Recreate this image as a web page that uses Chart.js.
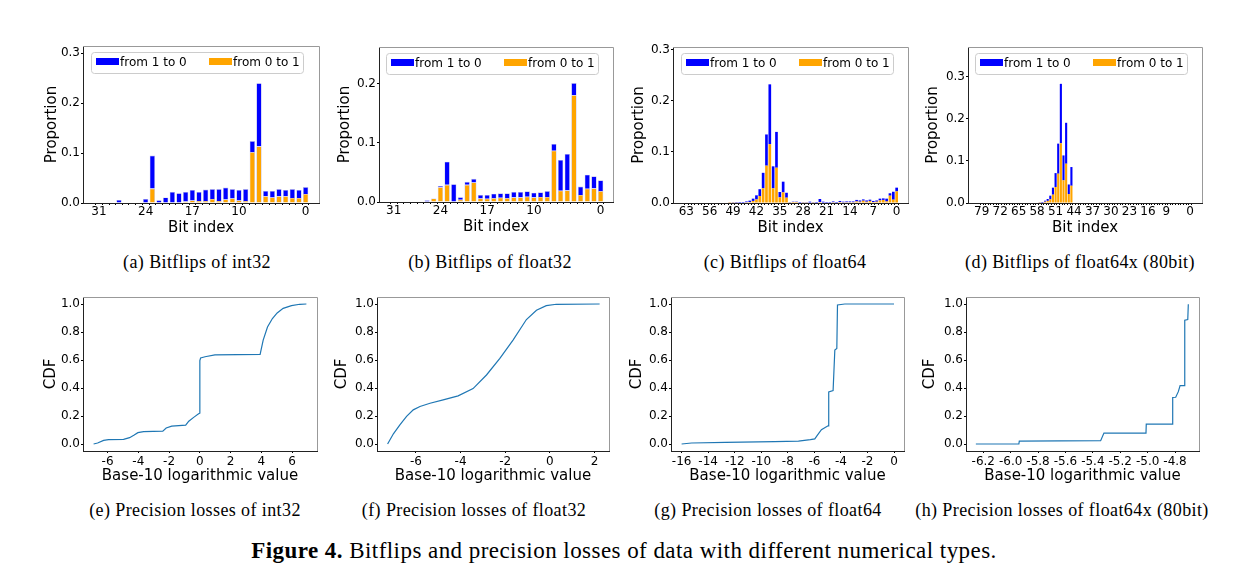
<!DOCTYPE html>
<html>
<head>
<meta charset="utf-8">
<script src="https://cdn.jsdelivr.net/npm/chart.js@4.4.1/dist/chart.umd.min.js"></script>
<style>
  body { margin: 0; background: #fff; width: 1259px; height: 588px; position: relative; overflow: hidden; }
  canvas { position: absolute; }
  .sub { position: absolute; font-family: "Liberation Serif", serif; font-size: 18px; line-height: 20px;
         white-space: nowrap; transform: translateX(-50%); color: #000; letter-spacing: 0.4px; }
  #caption { position: absolute; left: 624px; top: 539px; font-family: "Liberation Serif", serif; font-size: 23px;
             line-height: 24px; white-space: nowrap; transform: translateX(-50%); color: #000; letter-spacing: 0.45px; }
</style>
</head>
<body>
<div class="sub" style="left:197px;top:252px">(a) Bitflips of int32</div>
<div class="sub" style="left:490px;top:252px">(b) Bitflips of float32</div>
<div class="sub" style="left:785px;top:252px">(c) Bitflips of float64</div>
<div class="sub" style="left:1080px;top:252px">(d) Bitflips of float64x (80bit)</div>
<div class="sub" style="left:195px;top:500px">(e) Precision losses of int32</div>
<div class="sub" style="left:474px;top:500px">(f) Precision losses of float32</div>
<div class="sub" style="left:768px;top:500px">(g) Precision losses of float64</div>
<div class="sub" style="left:1062px;top:500px">(h) Precision losses of float64x (80bit)</div>
<div id="caption"><b>Figure 4.</b> Bitflips and precision losses of data with different numerical types.</div>

<script>
Chart.defaults.font.family = '"DejaVu Sans", sans-serif';
Chart.defaults.font.size = 12;
Chart.defaults.color = '#000';

const blue = '#0000ff';
const orange = '#ffa500';
const lineBlue = '#1f77b4';

function bitRange(hi) {
  const r = [];
  for (let b = hi; b >= 0; b--) r.push(b);
  return r;
}

// ---- bitflips, values listed from the highest bit down to bit 0 ----
const int32Bits = bitRange(31);
const int32From1to0 = [0, 0, 0, 0.006, 0, 0, 0, 0.008, 0.066, 0.0055, 0.011, 0.021, 0.0185, 0.019, 0.021, 0.018,
  0.023, 0.020, 0.024, 0.024, 0.019, 0.021, 0.024, 0.022, 0.1265, 0.0105, 0.013, 0.0145, 0.0125, 0.018, 0.016, 0.014];
const int32From0to1 = [0, 0, 0, 0, 0, 0, 0, 0, 0.029, 0, 0, 0.001, 0.001, 0.003, 0.005, 0.004,
  0.004, 0.008, 0.004, 0.007, 0.009, 0.005, 0.004, 0.102, 0.1135, 0.0135, 0.011, 0.0135, 0.0135, 0.010, 0.010, 0.018];

const f32Bits = bitRange(31);
const f32From1to0 = [0, 0, 0, 0, 0, 0.002, 0, 0.002, 0.039, 0.029, 0.004, 0.005, 0.006, 0.006, 0.0064, 0.0073,
  0.0073, 0.0079, 0.009, 0.009, 0.009, 0.0078, 0.0079, 0.0101, 0.0115, 0.052, 0.0613, 0.0206, 0.014, 0.0235, 0.0203, 0.018];
const f32From0to1 = [0, 0, 0, 0.001, 0.001, 0.001, 0.006, 0.025, 0.029, 0.001, 0.004, 0.029, 0.033, 0.006, 0.0056, 0.0067,
  0.0073, 0.0067, 0.0079, 0.0079, 0.009, 0.0079, 0.0084, 0.0084, 0.0865, 0.019, 0.0197, 0.18, 0.012, 0.0225, 0.023, 0.0185];

const f64Bits = bitRange(63);
const f64From1to0 = [0, 0, 0, 0, 0, 0, 0, 0, 0, 0, 0, 0, 0,
  0.0002, 0.0005, 0.0008, 0.001, 0.001, 0.0015, 0.0026, 0.0045, 0.008, 0.0133, 0.0303, 0.061, 0.117, 0.043, 0.07,
  0.0105, 0.0209, 0.0096, 0.0005, 0.0006, 0.0006, 0.001, 0.0005, 0.0005, 0.0016, 0.0005, 0.001, 0.0058, 0.0016,
  0.001, 0.001, 0.0015, 0.001, 0.002, 0.0013, 0.0015, 0.0015, 0.0015, 0.003, 0.0025, 0.0025, 0.0025, 0.0025,
  0.002, 0.0025, 0.0035, 0.003, 0.0055, 0.0047, 0.0155, 0.0072];
const f64From0to1 = [0, 0, 0, 0, 0, 0, 0, 0, 0, 0, 0, 0, 0,
  0.0003, 0.0005, 0.0007, 0.001, 0.001, 0.0015, 0.002, 0.004, 0.007, 0.0137, 0.0287, 0.073, 0.115, 0.0287, 0.069,
  0.011, 0.0208, 0.0104, 0.0005, 0.002, 0.002, 0.001, 0.0005, 0.0005, 0.001, 0.0005, 0.001, 0.002, 0.001,
  0.001, 0.001, 0.0015, 0.001, 0.002, 0.0013, 0.0015, 0.0015, 0.0015, 0.003, 0.0025, 0.0045, 0.0025, 0.004,
  0.002, 0.0025, 0.005, 0.006, 0.003, 0.0143, 0.0065, 0.0228];

// float64x: only bits 57..45 are non-zero
const f64xBits = [57, 56, 55, 54, 53, 52, 51, 50, 49, 48, 47, 46, 45];
const f64xFrom1to0 = [0.0005, 0.0014, 0.0025, 0.0045, 0.0087, 0.0166, 0.033, 0.0714, 0.141, 0.0592, 0.0972, 0.0227, 0.0444];
const f64xFrom0to1 = [0.0005, 0.001, 0.003, 0.005, 0.0087, 0.0198, 0.038, 0.0696, 0.142, 0.0538, 0.0933, 0.0213, 0.041];

const int32XLabels = [31, 24, 17, 10, 0];
const f64XLabels = [63, 56, 49, 42, 35, 28, 21, 14, 7, 0];
const f64xXLabels = [79, 72, 65, 58, 51, 44, 37, 30, 23, 16, 9, 0];
const propTicks3 = [0, 0.1, 0.2, 0.3];
const propTicks2 = [0, 0.1, 0.2];

// ---- precision losses (CDF over log10 value) ----
const int32LogX = [-6.91, -6.65, -6.26, -5.94, -4.96, -4.57, -4.27, -4.03, -3.66, -2.41, -2.19, -1.83, -0.92, -0.72, -0.38,
  -0.08, 0.0, 0.0, 0.05, 0.34, 0.98, 3.92, 4.12, 4.40, 4.72, 5.03, 5.42, 5.96, 6.5, 6.93];
const int32Cdf = [0.0, 0.007, 0.026, 0.031, 0.033, 0.045, 0.064, 0.081, 0.088, 0.092, 0.114, 0.128, 0.135, 0.163, 0.192,
  0.216, 0.22, 0.595, 0.614, 0.623, 0.637, 0.64, 0.742, 0.836, 0.896, 0.936, 0.969, 0.988, 0.998, 1.0];

const f32LogX = [-7.27, -7.01, -6.72, -6.42, -6.12, -5.82, -5.37, -4.78, -4.11, -3.44, -2.84, -2.24, -1.65, -1.05, -0.6, -0.16, 0.29, 2.23];
const f32Cdf = [0, 0.073, 0.137, 0.197, 0.244, 0.268, 0.291, 0.315, 0.344, 0.396, 0.493, 0.611, 0.742, 0.889, 0.955, 0.988, 0.998, 1.0];

const f64LogX = [-16, -15.25, -12.7, -9.0, -7.2, -6.3, -5.97, -5.77, -5.47, -4.97, -4.92, -4.59, -4.46, -4.31, -4.26, -3.71, 0];
const f64Cdf = [0, 0.007, 0.012, 0.017, 0.021, 0.031, 0.036, 0.064, 0.102, 0.130, 0.372, 0.382, 0.671, 0.682, 0.993, 1.0, 1.0];

const f64xLogX = [-6.254, -5.94, -5.937, -5.343, -5.319, -5.012, -5.01, -4.82, -4.817, -4.795, -4.776, -4.763, -4.732, -4.729, -4.707, -4.703];
const f64xCdf = [0, 0, 0.021, 0.024, 0.078, 0.078, 0.142, 0.142, 0.332, 0.334, 0.374, 0.417, 0.417, 0.884, 0.889, 0.998];

const cdfTicks = [0, 0.2, 0.4, 0.6, 0.8, 1.0];
const int32LogTicks = [-6, -4, -2, 0, 2, 4, 6];
const f32LogTicks = [-6, -4, -2, 0, 2];
const f64LogTicks = [-16, -14, -12, -10, -8, -6, -4, -2, 0];
const f64xLogTicks = [-6.2, -6.0, -5.8, -5.6, -5.4, -5.2, -5.0, -4.8];

// top and right spines
const frame = {
  id: 'frame',
  afterDraw(chart) {
    const { ctx, chartArea: a } = chart;
    ctx.save();
    ctx.lineWidth = 1;
    ctx.strokeStyle = '#999';
    ctx.beginPath();
    ctx.moveTo(a.left, Math.round(a.top) + 0.5);
    ctx.lineTo(Math.round(a.right) + 0.5, Math.round(a.top) + 0.5);
    ctx.lineTo(Math.round(a.right) + 0.5, a.bottom);
    ctx.stroke();
    ctx.restore();
  }
};

// matplotlib-like legend inside the axes
const insideLegend = {
  id: 'insideLegend',
  afterDraw(chart, args, opts) {
    if (!opts.show) return;
    const { ctx, chartArea: a } = chart;
    const w = 212, h = 21;
    const x = Math.round((a.left + a.right) / 2 - 4 - w / 2), y = Math.round(a.top + 6);
    const items = chart.data.datasets.slice().reverse();
    ctx.save();
    ctx.fillStyle = 'rgba(255,255,255,0.8)';
    ctx.strokeStyle = '#cccccc';
    ctx.lineWidth = 1;
    ctx.beginPath();
    ctx.roundRect(x + 0.5, y + 0.5, w, h, 3);
    ctx.fill();
    ctx.stroke();
    ctx.font = '12px "DejaVu Sans"';
    ctx.textBaseline = 'middle';
    items.forEach((d, i) => {
      const hx = x + 5 + i * 113;
      ctx.fillStyle = d.backgroundColor;
      ctx.fillRect(hx, y + 6, 23, 7);
      ctx.fillStyle = '#000';
      ctx.fillText(d.label, hx + 24, y + 11);
    });
    ctx.restore();
  }
};

function placeCanvas(box) {
  const c = document.createElement('canvas');
  const w = box[2] - box[0] + 56, h = box[3] - box[1] + 52;
  c.width = w; c.height = h;
  c.style.left = (box[0] - 50) + 'px';
  c.style.top = (box[1] - 12) + 'px';
  c.style.width = w + 'px';
  c.style.height = h + 'px';
  document.body.appendChild(c);
  return c;
}

function axisCommon(titleText, titlePad) {
  return {
    grid: { drawOnChartArea: false, tickLength: 2, color: '#000' },
    border: { color: '#222' },
    title: { display: true, text: titleText, font: { size: 15 }, padding: titlePad }
  };
}

function barPanel(box, bits, from1to0, from0to1, xMin, xMax, allBits, xLabels, yMax, yTicks, yPad, edge) {
  new Chart(placeCanvas(box), {
    type: 'bar',
    data: {
      datasets: [
        { label: 'from 0 to 1', data: bits.map((b, i) => ({ x: b, y: from0to1[i] })),
          backgroundColor: orange, borderColor: 'rgba(160,160,220,0.7)', borderWidth: edge },
        { label: 'from 1 to 0', data: bits.map((b, i) => ({ x: b, y: from1to0[i] })),
          backgroundColor: blue, borderColor: 'rgba(160,160,220,0.7)', borderWidth: edge }
      ]
    },
    options: {
      responsive: false, animation: false, devicePixelRatio: 1,
      layout: { padding: { left: 0, top: 12, right: 6, bottom: 0 } },
      datasets: { bar: { barPercentage: 0.8, categoryPercentage: 1 } },
      plugins: { legend: { display: false }, tooltip: { enabled: false }, insideLegend: { show: true } },
      scales: {
        x: Object.assign(axisCommon('Bit index', { top: 0, bottom: 5.5 }), {
          type: 'linear', reverse: true, min: xMin, max: xMax, stacked: true, offset: false,
          afterBuildTicks: ax => { ax.ticks = allBits.map(v => ({ value: v })); },
          ticks: { autoSkip: false, maxRotation: 0, padding: 0, callback: v => (xLabels.includes(v) ? String(v) : '') },
          afterFit: ax => { ax.height = 40; }
        }),
        y: Object.assign(axisCommon('Proportion', { top: yPad, bottom: 0 }), {
          min: 0, max: yMax, stacked: true,
          afterBuildTicks: ax => { ax.ticks = yTicks.map(v => ({ value: v })); },
          ticks: { padding: 1, callback: v => v.toFixed(1) },
          afterFit: ax => { ax.width = 50; }
        })
      }
    },
    plugins: [frame, insideLegend]
  });
}

function cdfPanel(box, xs, ys, xMin, xMax, xTicks, decimals, yPad) {
  new Chart(placeCanvas(box), {
    type: 'line',
    data: {
      datasets: [{ data: xs.map((x, i) => ({ x: x, y: ys[i] })), borderColor: lineBlue, borderWidth: 1.2,
        pointRadius: 0, tension: 0, fill: false }]
    },
    options: {
      responsive: false, animation: false, devicePixelRatio: 1,
      layout: { padding: { left: 0, top: 12, right: 6, bottom: 0 } },
      plugins: { legend: { display: false }, tooltip: { enabled: false } },
      scales: {
        x: Object.assign(axisCommon('Base-10 logarithmic value', { top: 0, bottom: 5.5 }), {
          type: 'linear', min: xMin, max: xMax,
          afterBuildTicks: ax => { ax.ticks = xTicks.map(v => ({ value: v })); },
          ticks: { autoSkip: false, maxRotation: 0, padding: 1.5, callback: v => v.toFixed(decimals) },
          afterFit: ax => { ax.height = 40; }
        }),
        y: Object.assign(axisCommon('CDF', { top: yPad, bottom: 0 }), {
          min: -0.05, max: 1.05,
          afterBuildTicks: ax => { ax.ticks = cdfTicks.map(v => ({ value: v })); },
          ticks: { padding: 1, callback: v => v.toFixed(1) },
          afterFit: ax => { ax.width = 50; }
        })
      }
    },
    plugins: [frame]
  });
}

barPanel([83, 46, 319, 203], int32Bits, int32From1to0, int32From0to1, -2.0, 33.4, bitRange(31), int32XLabels, 0.3146, propTicks3, 10, 0.6);
barPanel([379, 47, 613, 202], f32Bits, f32From1to0, f32From0to1, -1.85, 33.2, bitRange(31), int32XLabels, 0.2614, propTicks2, 7, 0.6);
barPanel([673, 47, 908, 203], f64Bits, f64From1to0, f64From0to1, -3.4, 67.0, bitRange(63), f64XLabels, 0.305, propTicks3, 7, 0);
barPanel([968, 47, 1202, 203], f64xBits, f64xFrom1to0, f64xFrom0to1, -4.5, 84.2, bitRange(79), f64xXLabels, 0.3705, propTicks3, 6, 0);

cdfPanel([83, 297, 317, 451], int32LogX, int32Cdf, -7.6, 7.62, int32LogTicks, 0, 9);
cdfPanel([377, 297, 609, 451], f32LogX, f32Cdf, -7.745, 2.65, f32LogTicks, 0, 6);
cdfPanel([671, 297, 904, 451], f64LogX, f64Cdf, -16.8, 0.75, f64LogTicks, 0, 7);
cdfPanel([966, 297, 1199, 451], f64xLogX, f64xCdf, -6.326, -4.625, f64xLogTicks, 1, 5);
</script>
</body>
</html>
